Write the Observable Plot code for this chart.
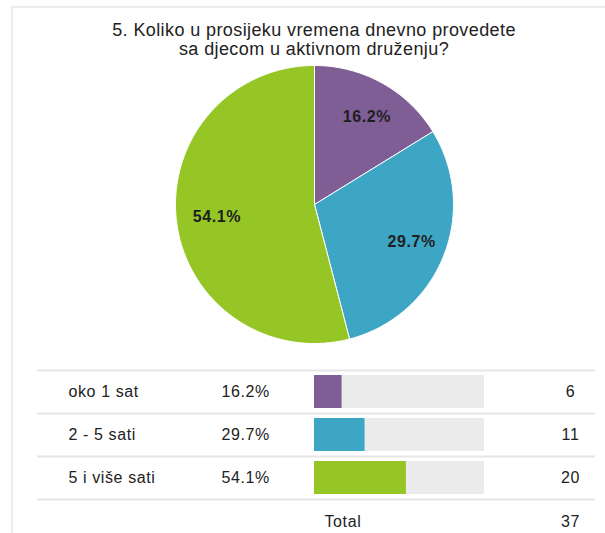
<!DOCTYPE html>
<html><head><meta charset="utf-8">
<script src="https://cdn.jsdelivr.net/npm/d3@7"></script>
<script src="https://cdn.jsdelivr.net/npm/@observablehq/plot@0.6"></script>
<style>
html,body{margin:0;padding:0;background:#fff;}
#root{position:relative;width:605px;height:533px;overflow:hidden;font-family:"Liberation Sans",Arial,sans-serif;}
#panel{position:absolute;left:11px;top:6px;right:-4px;bottom:-4px;border-top:2px solid #ededed;border-left:2px solid #ededed;}
#title{position:absolute;left:14px;width:600px;top:21px;text-align:center;font-size:18px;line-height:19px;color:#222;letter-spacing:0.4px;}
#pie{position:absolute;left:164px;top:54px;}
#table{position:absolute;left:0;top:360px;}
</style></head><body>
<div id="root"><div id="panel"></div><div id="title">5. Koliko u prosijeku vremena dnevno provedete<br>sa djecom u aktivnom druženju?</div><div id="pie"></div><div id="table"></div></div>
<script>
const categories = ["oko 1 sat", "2 - 5 sati", "5 i više sati"];
const counts = [6, 11, 20];
const colors = ["#7f5e96", "#3ea6c5", "#95c626"];
const totalLabel = "Total";

const total = d3.sum(counts);
const rows = categories.map((c, i) => ({category: c, count: counts[i], share: counts[i] / total}));
const fmt = d3.format(".1%");

// pie geometry from d3.pie
const arcs = d3.pie().sort(null).value(d => d.count)(rows);
const pts = [];
arcs.forEach(a => {
  const n = Math.max(2, Math.ceil((a.endAngle - a.startAngle) / (Math.PI / 180)));
  pts.push({category: a.data.category, x: 0, y: 0});
  for (let k = 0; k <= n; k++) {
    const t = a.startAngle + (a.endAngle - a.startAngle) * k / n;
    pts.push({category: a.data.category, x: Math.sin(t), y: Math.cos(t)});
  }
  pts.push({category: a.data.category, x: 0, y: 0});
});
const labels = arcs.map(a => {
  const m = (a.startAngle + a.endAngle) / 2;
  return {text: fmt(a.data.share), x: 0.73 * Math.sin(m), y: 0.72 * Math.cos(m)};
});
const ext = 150 / 139;
const font = '"Liberation Sans", Arial, sans-serif';

const pie = Plot.plot({
  width: 300, height: 300, margin: 0,
  style: {fontFamily: font, background: "transparent", letterSpacing: "0.6px", overflow: "visible"},
  x: {domain: [-ext, ext], axis: null},
  y: {domain: [-ext, ext], axis: null},
  color: {domain: categories, range: colors},
  marks: [
    Plot.line(pts, {x: "x", y: "y", z: "category", fill: "category", stroke: "white", strokeWidth: 1}),
    Plot.text(labels, {x: "x", y: "y", text: "text", dx: 3, fontSize: 16, fontWeight: "bold", fill: "#1e1e1e"})
  ]
});
document.getElementById("pie").appendChild(pie);

const yDomain = [...categories, totalLabel];
const table = Plot.plot({
  width: 605, height: 173, marginLeft: 37, marginRight: 10, marginTop: 9, marginBottom: 0,
  style: {fontFamily: font, background: "transparent", letterSpacing: "0.6px", overflow: "visible"},
  x: {domain: [0, 1], range: [314, 484], axis: null},
  y: {type: "band", domain: yDomain, range: [9, 182], padding: 0, axis: null},
  color: {domain: categories, range: colors},
  marks: [
    Plot.ruleY(yDomain, {y: d => d, dy: -21.6, stroke: "#e6e6e6", strokeWidth: 2}),
    Plot.barX(rows, {x1: () => 0, x2: () => 1, y: "category", fill: "#ebebeb", insetTop: 5, insetBottom: 5}),
    Plot.barX(rows, {x: "share", y: "category", fill: "category", insetTop: 5, insetBottom: 5}),
    Plot.text(rows, {y: "category", text: "category", frameAnchor: "left", dx: 31, textAnchor: "start", fontSize: 16, fill: "#222"}),
    Plot.text(rows, {y: "category", text: d => fmt(d.share), frameAnchor: "left", dx: 184, textAnchor: "start", fontSize: 16, fill: "#222"}),
    Plot.text(rows, {y: "category", text: "count", frameAnchor: "right", dx: -25, textAnchor: "middle", fontSize: 16, fill: "#222"}),
    Plot.text([totalLabel], {y: d => d, text: d => d, x: () => 0, dx: 10, dy: 1, textAnchor: "start", fontSize: 16, fill: "#222"}),
    Plot.text([total], {y: () => totalLabel, text: d => d, frameAnchor: "right", dx: -25, dy: 1, textAnchor: "middle", fontSize: 16, fill: "#222"})
  ]
});
document.getElementById("table").appendChild(table);
</script>
</body></html>
